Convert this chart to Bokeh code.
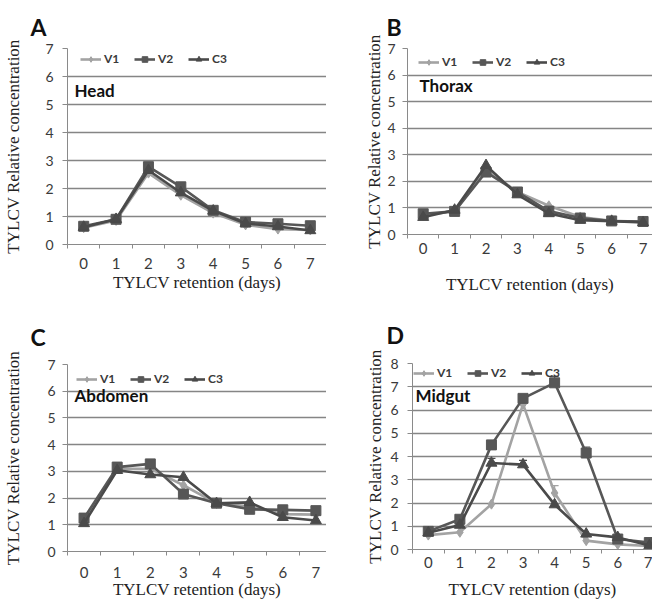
from bokeh.plotting import figure
from bokeh.models import (Range1d, FixedTicker, Label, Legend, LegendItem,
                          ColumnDataSource, Whisker, TeeHead)
from bokeh.layouts import column, row
from bokeh.embed import file_html
from bokeh.resources import INLINE

# ---------------- data ----------------
days = [0, 1, 2, 3, 4, 5, 6, 7]
series_names = ["V1", "V2", "C3"]

head_v1 = [0.60, 0.86, 2.55, 1.76, 1.12, 0.70, 0.55, 0.52]
head_v2 = [0.65, 0.90, 2.78, 2.06, 1.22, 0.80, 0.74, 0.67]
head_c3 = [0.62, 0.90, 2.65, 1.85, 1.20, 0.75, 0.64, 0.50]

thorax_v1 = [0.72, 0.88, 2.45, 1.60, 1.08, 0.66, 0.52, 0.48]
thorax_v2 = [0.78, 0.87, 2.35, 1.60, 0.88, 0.62, 0.51, 0.49]
thorax_c3 = [0.65, 0.92, 2.60, 1.50, 0.79, 0.54, 0.50, 0.45]

abdomen_v1 = [1.15, 3.10, 3.10, 2.48, 1.80, 1.69, 1.40, 1.38]
abdomen_v2 = [1.25, 3.16, 3.28, 2.15, 1.81, 1.58, 1.56, 1.53]
abdomen_c3 = [1.05, 3.04, 2.88, 2.78, 1.80, 1.84, 1.28, 1.16]

midgut_v1 = [0.62, 0.74, 1.95, 6.25, 2.43, 0.38, 0.22, 0.15]
midgut_v2 = [0.78, 1.30, 4.50, 6.50, 7.17, 4.15, 0.45, 0.30]
midgut_c3 = [0.72, 1.05, 3.72, 3.65, 1.93, 0.67, 0.52, 0.17]

# upper error bars visible in the Midgut panel: (series, day, upper value)
midgut_err_series = ["V2", "V2", "V2", "C3", "C3", "V1"]
midgut_err_days = [2, 4, 5, 2, 3, 4]
midgut_err_upper = [4.65, 7.45, 4.40, 3.92, 3.83, 2.75]

colors = {"V1": "#a3a3a3", "V2": "#575757", "C3": "#4a4a4a"}
markers = {"V1": "diamond", "V2": "square", "C3": "triangle"}
msize = {"V1": 10, "V2": 10, "C3": 11}

SANS = "Lato"
SERIF = "Liberation Serif"


def panel(letter, name, vals, ymax, width, height, left, top, bottom, xend,
          ylab_standoff, ytick_standoff, xtick_standoff, xlab_standoff,
          letter_off, letter_standoff, name_off, legend_off, errors=None):
    p = figure(width=width, height=height, output_backend="svg",
               toolbar_location=None, min_border_left=left, min_border_right=0,
               min_border_top=top, min_border_bottom=bottom,
               x_range=Range1d(-0.5, xend), y_range=Range1d(0, ymax),
               title=letter)
    p.frame_align = False
    p.outline_line_color = None
    p.background_fill_color = "white"
    p.border_fill_color = "white"
    p.xgrid.visible = False
    p.ygrid.ticker = FixedTicker(ticks=list(range(0, ymax + 1)))
    p.ygrid.grid_line_color = "#858585"
    p.ygrid.grid_line_width = 1.3

    # panel letter as the figure title
    p.title.align = "left"
    p.title.offset = letter_off
    p.title.standoff = letter_standoff
    p.title.text_font = SANS
    p.title.text_font_size = "23px"
    p.title.text_font_style = "bold"
    p.title.text_color = "#111111"

    # y axis
    ya = p.yaxis[0]
    ya.ticker = FixedTicker(ticks=list(range(0, ymax + 1)))
    ya.axis_line_color = "#8a8a8a"
    ya.major_tick_line_color = "#8a8a8a"
    ya.major_tick_out = 5
    ya.major_tick_in = 0
    ya.minor_tick_line_color = None
    ya.major_label_text_font = SANS
    ya.major_label_text_font_size = "14px"
    ya.major_label_text_color = "#3a3a3a"
    ya.major_label_standoff = ytick_standoff
    ya.axis_label = "TYLCV Relative concentration"
    ya.axis_label_text_font = SERIF
    ya.axis_label_text_font_size = "17px"
    ya.axis_label_text_font_style = "normal"
    ya.axis_label_text_color = "#222222"
    ya.axis_label_standoff = ylab_standoff

    # x axis: labels at days, tick marks between categories
    xa = p.xaxis[0]
    xa.ticker = FixedTicker(ticks=days, minor_ticks=[d - 0.5 for d in days] + [7.5])
    xa.axis_line_color = "#8a8a8a"
    xa.major_tick_out = 0
    xa.major_tick_in = 0
    xa.minor_tick_line_color = "#8a8a8a"
    xa.minor_tick_out = 4
    xa.minor_tick_in = 0
    xa.major_label_text_font = SANS
    xa.major_label_text_font_size = "15px"
    xa.major_label_text_color = "#3a3a3a"
    xa.major_label_standoff = xtick_standoff
    xa.axis_label = "TYLCV retention (days)"
    xa.axis_label_text_font = SERIF
    xa.axis_label_text_font_size = "17px"
    xa.axis_label_text_font_style = "normal"
    xa.axis_label_text_color = "#222222"
    xa.axis_label_standoff = xlab_standoff

    items = []
    for s, v in zip(series_names, vals):
        ln = p.line(days, v, line_color=colors[s], line_width=2.6)
        mk = p.scatter(days, v, marker=markers[s], size=msize[s],
                       fill_color=colors[s], line_color=colors[s])
        items.append(LegendItem(label=s, renderers=[ln, mk]))

    if errors is not None:
        es, ed, eu = errors
        for s, v in zip(series_names, vals):
            xs = [d for ss, d in zip(es, ed) if ss == s]
            if not xs:
                continue
            ys = [v[d] for d in xs]
            ups = [u for ss, u in zip(es, eu) if ss == s]
            src = ColumnDataSource(dict(x=xs, y=ys, up=ups))
            w = Whisker(source=src, base="x", upper="up", lower="y",
                        line_color=colors[s], line_width=1.3,
                        upper_head=TeeHead(size=8, line_color=colors[s], line_width=1.3),
                        lower_head=None)
            p.add_layout(w)

    fh = height - top - bottom
    lg = Legend(items=items, orientation="horizontal",
                location=(legend_off[0], fh - legend_off[1] - 7),
                padding=0, margin=0, spacing=10, label_standoff=3,
                glyph_width=21, glyph_height=14, label_height=14,
                label_text_font=SANS, label_text_font_size="12px",
                label_text_font_style="bold", label_text_color="#3a3a3a",
                background_fill_alpha=0, border_line_alpha=0)
    p.add_layout(lg)

    p.add_layout(Label(x=-0.5, y=ymax, x_offset=name_off[0], y_offset=name_off[1],
                       text=name, text_font=SANS, text_font_size="17px",
                       text_font_style="bold", text_color="#111111",
                       text_baseline="middle", text_align="left"))
    return p


pa = panel("A", "Head", [head_v1, head_v2, head_c3], 7, 326, 300, 67, 48, 56, 7.5,
           ylab_standoff=19, ytick_standoff=9, xtick_standoff=9, xlab_standoff=1,
           letter_off=-37, letter_standoff=16, name_off=(7, -42), legend_off=(13, 11))
pb = panel("B", "Thorax", [thorax_v1, thorax_v2, thorax_c3], 7, 326, 300, 81, 48, 66, 7.3,
           ylab_standoff=0, ytick_standoff=7, xtick_standoff=4, xlab_standoff=18,
           letter_off=-21, letter_standoff=16, name_off=(12, -37), legend_off=(11, 14))
pc = panel("C", "Abdomen", [abdomen_v1, abdomen_v2, abdomen_c3], 7, 326, 301, 67, 64, 47, 7.32,
           ylab_standoff=21, ytick_standoff=7, xtick_standoff=11, xlab_standoff=-1,
           letter_off=-37, letter_standoff=28, name_off=(7, -31), legend_off=(9, 18))
pd_ = panel("D", "Midgut", [midgut_v1, midgut_v2, midgut_c3], 8, 326, 301, 86, 63, 51, 7.1,
            ylab_standoff=2, ytick_standoff=9, xtick_standoff=3, xlab_standoff=9,
            letter_off=-26, letter_standoff=29, name_off=(3, -32), legend_off=(1, 11),
            errors=(midgut_err_series, midgut_err_days, midgut_err_upper))

layout = column(row(pa, pb), row(pc, pd_))
open("out.html", "w").write(file_html(layout, INLINE))
